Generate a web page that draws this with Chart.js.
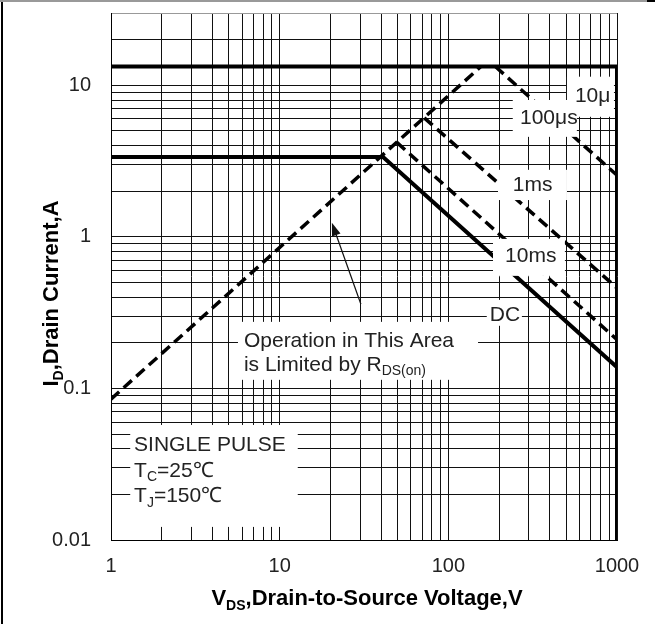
<!DOCTYPE html>
<html>
<head>
<meta charset="utf-8">
<script src="https://cdn.jsdelivr.net/npm/chart.js@4.4.0/dist/chart.umd.min.js"></script>
<style>
  html, body { margin: 0; padding: 0; background: #fff; }
  #wrap { width: 655px; height: 624px; }
</style>
</head>
<body>
<div id="wrap"><canvas id="soa" width="655" height="624"></canvas></div>
<script>
// axis tick labels
const xTickLabels = [1, 10, 100, 1000];
const yTickLabels = [0.01, 0.1, 1, 10];

// SOA limit curves, V (volts) and I (amps)
const rdsV = [1, 156];
const rdsI = [0.085, 13.3];
const us10V = [1, 1000, 1000];
const us10I = [13.3, 13.3, 0.01];
const us100V = [190, 1000];
const us100I = [13.3, 2.55];
const ms1V = [72, 1000];
const ms1I = [6.1, 0.46];
const ms10V = [49.5, 1000];
const ms10I = [4.2, 0.21];
const dcV = [1, 41, 1000];
const dcI = [3.37, 3.37, 0.138];

const FONT = '"Liberation Sans", Arial, sans-serif';
const INK = '#222';
const NOTE_SIZE = 21;
const TITLE_SIZE = 22;

// minor log grid 1..9 per decade
const logGrid = (from, decades, extra) => {
  const out = [];
  for (let k = 0; k < decades; k++) {
    const base = from * Math.pow(10, k);
    for (let d = 1; d <= 9; d++) out.push(+(d * base).toPrecision(6));
  }
  return out.concat(extra);
};
const xGrid = logGrid(1, 3, [1000]);
const yGrid = logGrid(0.01, 3, [10, 20, 30]);

const isLabel = (list, v) => list.find(t => Math.abs(t - v) / t < 1e-6);

const pts = (vs, is) => vs.map((v, i) => ({ x: v, y: is[i] }));

// white boxes behind the annotations: [V0, V1, Itop, Ibottom]
const masks = [
  [505, 959, 11.4, 6.2],
  [241, 578, 8.0, 4.57],
  [197, 505, 2.77, 1.75],
  [184, 491, 0.97, 0.553],
  [169, 273, 0.384, 0.259],
  [5.66, 150, 0.275, 0.114],
  [1.3, 12.8, 0.0574, 0.0122]
];

// annotation text, anchored at left / baseline
const notes = [
  { v: 563, i: 7.78, parts: [['10\u03bc']] },
  { v: 266, i: 5.57, parts: [['100\u03bcs']] },
  { v: 241, i: 2.01, parts: [['1ms']] },
  { v: 217, i: 0.684, parts: [['10ms']] },
  { v: 176, i: 0.279, parts: [['DC']] },
  { v: 6.14, i: 0.188, parts: [['Operation in This Area']] },
  { v: 6.14, i: 0.131, parts: [['is Limited by R'], ['DS(on)', true]] },
  { v: 1.37, i: 0.0387, parts: [['SINGLE PULSE']] },
  { v: 1.37, i: 0.0261, parts: [['T'], ['C', true], ['=25\u2103']] },
  { v: 1.37, i: 0.0178, parts: [['T'], ['J', true], ['=150\u2103']] }
];

// arrow pointing at the RDS(on) line: tail -> tip
const arrow = { from: [30.3, 0.36], to: [20.4, 1.24] };

function richWidth(ctx, parts, size, weight) {
  let w = 0;
  parts.forEach(([t, sub]) => {
    ctx.font = `${weight} ${sub ? Math.round(size * 0.65) : size}px ${FONT}`;
    w += ctx.measureText(t).width;
  });
  return w;
}

function drawRich(ctx, parts, x, y, size, weight = 'normal') {
  parts.forEach(([t, sub]) => {
    ctx.font = `${weight} ${sub ? Math.round(size * 0.65) : size}px ${FONT}`;
    ctx.fillText(t, x, sub ? y + size * 0.22 : y);
    x += ctx.measureText(t).width;
  });
}

const overlay = {
  id: 'overlay',
  afterDatasetsDraw(chart) {
    const { ctx, scales: { x, y } } = chart;
    const px = v => x.getPixelForValue(v);
    const py = v => y.getPixelForValue(v);
    ctx.save();

    ctx.fillStyle = '#fff';
    masks.forEach(([v0, v1, i0, i1]) => {
      ctx.fillRect(px(v0), py(i0), px(v1) - px(v0), py(i1) - py(i0));
    });

    // arrow
    const x0 = px(arrow.from[0]), y0 = py(arrow.from[1]);
    const x1 = px(arrow.to[0]), y1 = py(arrow.to[1]);
    const ang = Math.atan2(y1 - y0, x1 - x0);
    ctx.strokeStyle = '#111';
    ctx.fillStyle = '#111';
    ctx.lineWidth = 1.3;
    ctx.beginPath();
    ctx.moveTo(x0, y0);
    ctx.lineTo(x1 - 10 * Math.cos(ang), y1 - 10 * Math.sin(ang));
    ctx.stroke();
    ctx.beginPath();
    ctx.moveTo(x1, y1);
    ctx.lineTo(x1 - 13 * Math.cos(ang) + 4.5 * Math.sin(ang), y1 - 13 * Math.sin(ang) - 4.5 * Math.cos(ang));
    ctx.lineTo(x1 - 13 * Math.cos(ang) - 4.5 * Math.sin(ang), y1 - 13 * Math.sin(ang) + 4.5 * Math.cos(ang));
    ctx.closePath();
    ctx.fill();

    ctx.fillStyle = INK;
    ctx.textBaseline = 'alphabetic';
    ctx.textAlign = 'left';
    notes.forEach(n => drawRich(ctx, n.parts, px(n.v), py(n.i), NOTE_SIZE));
    ctx.restore();
  },
  afterDraw(chart) {
    const { ctx, chartArea: a, width, height } = chart;
    ctx.save();
    ctx.fillStyle = '#000';
    ctx.textAlign = 'left';
    ctx.textBaseline = 'alphabetic';

    // x axis title
    const xt = [['V'], ['DS', true], [',Drain-to-Source Voltage,V']];
    const xw = richWidth(ctx, xt, TITLE_SIZE, 'bold');
    drawRich(ctx, xt, (a.left + a.right) / 2 + 3 - xw / 2, height - 19, TITLE_SIZE, 'bold');

    // y axis title
    const yt = [['I'], ['D', true], [',Drain Current,A']];
    const yw = richWidth(ctx, yt, TITLE_SIZE, 'bold');
    ctx.translate(a.left - 53, (a.top + a.bottom) / 2 + 17);
    ctx.rotate(-Math.PI / 2);
    drawRich(ctx, yt, -yw / 2, 0, TITLE_SIZE, 'bold');
    ctx.restore();

    // page frame
    ctx.save();
    ctx.fillStyle = '#000';
    ctx.fillRect(1, 0, 2, height);
    ctx.fillStyle = '#999';
    ctx.fillRect(0, 0, width, 2);
    ctx.fillStyle = '#000';
    ctx.fillRect(width - 8, 0, 8, 2);
    ctx.restore();
  }
};

const dashed = [11, 6];
const lineDs = (data, dash, width) => ({
  data, showLine: true, pointRadius: 0, borderColor: '#000',
  borderWidth: width, borderDash: dash, borderJoinStyle: 'round',
  tension: 0, fill: false
});

new Chart(document.getElementById('soa'), {
  type: 'scatter',
  data: {
    datasets: [
      lineDs(pts(rdsV, rdsI), dashed, 3.5),
      lineDs(pts(us10V, us10I), [], 4),
      lineDs(pts(us100V, us100I), dashed, 3.5),
      lineDs(pts(ms1V, ms1I), dashed, 3.5),
      lineDs(pts(ms10V, ms10I), dashed, 3.5),
      lineDs(pts(dcV, dcI), [], 4)
    ]
  },
  options: {
    responsive: false,
    animation: false,
    layout: { padding: { left: 0, top: 13, right: 38, bottom: 0 } },
    plugins: { legend: { display: false }, tooltip: { enabled: false } },
    scales: {
      x: {
        type: 'logarithmic', min: 1, max: 1000,
        afterBuildTicks: s => { s.ticks = xGrid.map(v => ({ value: v })); },
        afterFit: s => { s.height = 84; s.paddingLeft = 0; s.paddingRight = 0; },
        ticks: {
          autoSkip: false, maxRotation: 0, padding: 14, color: INK,
          font: { family: FONT, size: 20, lineHeight: 1.2 },
          callback: v => { const t = isLabel(xTickLabels, v); return t ? String(t) : ''; }
        },
        grid: { color: '#111', lineWidth: 1, drawTicks: false },
        border: { color: '#000', width: 1 }
      },
      y: {
        type: 'logarithmic', min: 0.01, max: 30,
        afterBuildTicks: s => { s.ticks = yGrid.map(v => ({ value: v })); },
        afterFit: s => { s.width = 111; s.paddingTop = 0; s.paddingBottom = 0; },
        ticks: {
          autoSkip: false, padding: 20, color: INK,
          font: { family: FONT, size: 20, lineHeight: 1.2 },
          callback: v => { const t = isLabel(yTickLabels, v); return t ? String(t) : ''; }
        },
        grid: {
          lineWidth: 1, drawTicks: false,
          color: c => (c.tick && c.tick.value === 30 ? '#999' : '#111')
        },
        border: { color: '#000', width: 1 }
      }
    }
  },
  plugins: [overlay]
});
</script>
</body>
</html>
